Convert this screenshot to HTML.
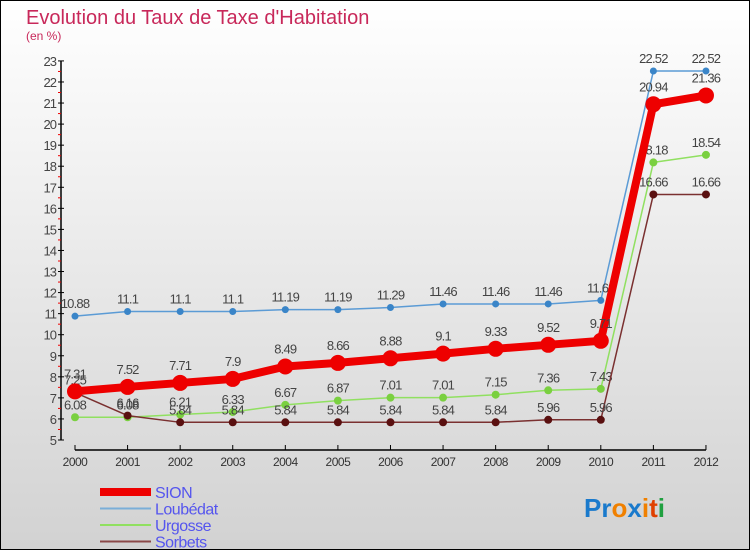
<!DOCTYPE html>
<html><head><meta charset="utf-8"><style>
html,body{margin:0;padding:0}
body{width:750px;height:550px;overflow:hidden;font-family:"Liberation Sans",sans-serif}
</style></head><body>
<svg width="750" height="550" xmlns="http://www.w3.org/2000/svg">
<defs><linearGradient id="bg" x1="0" y1="0" x2="0" y2="1"><stop offset="0" stop-color="#ffffff"/><stop offset="1" stop-color="#d2d2d2"/></linearGradient></defs>
<rect x="0.5" y="0.5" width="749" height="549" fill="url(#bg)" stroke="#000"/>
<text x="26" y="24" font-size="20" fill="#c8285a">Evolution du Taux de Taxe d'Habitation</text>
<text x="26" y="40" font-size="12" fill="#c8285a">(en %)</text>
<g id="axes"></g>
<g id="series"></g>
<g id="legend"></g>
<text x="584" y="517" font-size="26" font-weight="bold"><tspan fill="#1a7acc">Pr</tspan><tspan fill="#f08000">o</tspan><tspan fill="#1a7acc">x</tspan><tspan fill="#f08000">i</tspan><tspan fill="#e04000">t</tspan><tspan fill="#20a040">i</tspan></text>
</svg>
<script>
const years=["2000","2001","2002","2003","2004","2005","2006","2007","2008","2009","2010","2011","2012"];
const yTicks=[5,6,7,8,9,10,11,12,13,14,15,16,17,18,19,20,21,22,23];
const sion=[7.31,7.52,7.71,7.9,8.49,8.66,8.88,9.1,9.33,9.52,9.71,20.94,21.36];
const loubedat=[10.88,11.1,11.1,11.1,11.19,11.19,11.29,11.46,11.46,11.46,11.63,22.52,22.52];
const urgosse=[6.08,6.08,6.21,6.33,6.67,6.87,7.01,7.01,7.15,7.36,7.43,18.18,18.54];
const sorbets=[7.25,6.16,5.84,5.84,5.84,5.84,5.84,5.84,5.84,5.96,5.96,16.66,16.66];
const NS="http://www.w3.org/2000/svg";
const X=i=>75+i*52.58, Y=v=>440-(v-5)*21.06;
function mk(tag,attrs,parent,text){const e=document.createElementNS(NS,tag);for(const k in attrs)e.setAttribute(k,attrs[k]);if(text!==undefined)e.textContent=text;parent.appendChild(e);return e;}
const ax=document.getElementById('axes');
let l=mk('line',{x1:61,y1:Y(23),x2:61,y2:Y(5),stroke:'#000','stroke-width':1.5},ax);


yTicks.forEach(v=>{
  mk('line',{x1:58,y1:Y(v),x2:64,y2:Y(v),stroke:'#000'},ax);
  if(v<23)mk('line',{x1:58,y1:Y(v+0.5),x2:61,y2:Y(v+0.5),stroke:'#e00'},ax);
  const t=mk('text',{x:56,y:Y(v)+5,'font-size':13,fill:'#444','text-anchor':'end','letter-spacing':'-1'},ax,String(v));
  
  
});
l=mk('line',{x1:X(0),y1:450,x2:X(12),y2:450,stroke:'#000','stroke-width':1.5},ax);


years.forEach((y,i)=>{
  mk('line',{x1:X(i),y1:445,x2:X(i),y2:450,stroke:'#000'},ax);
  const t=mk('text',{x:X(i),y:466,'font-size':12,fill:'#333','text-anchor':'middle','letter-spacing':'-0.5'},ax,y);
  
  
});
const sg=document.getElementById('series');
const defs=[
 {name:'loubedat',data:loubedat,c:'#5b9bd5',w:1.5,r:3.5,fc:'#3a85c8'},
 {name:'urgosse',data:urgosse,c:'#90e060',w:1.5,r:4,fc:'#7ad040'},
 {name:'sorbets',data:sorbets,c:'#7a3030',w:1.5,r:4,fc:'#5a1010'},
 {name:'sion',data:sion,c:'#ee0000',w:8,r:8,fc:'#ee0000'}];
defs.forEach(s=>{
  const g=mk('g',{},sg);
  
  
  const p=mk('polyline',{points:s.data.map((v,i)=>X(i)+','+Y(v)).join(' '),fill:'none',stroke:s.c,'stroke-width':s.w,'stroke-linejoin':'round'},g);
  
  
  s.data.forEach((v,i)=>{
    const c=mk('circle',{cx:X(i),cy:Y(v),r:s.r,fill:s.fc},g);
    
    
    const t=mk('text',{x:X(i),y:Y(v)-(s.name==='sion'?13:8),'font-size':13,fill:'#444','text-anchor':'middle','letter-spacing':'-0.8'},g,String(v));
    
    
  });
});
const lg=document.getElementById('legend');
const items=[['SION','#ee0000',8],['Loubédat','#7aaed8',2],['Urgosse','#90e060',2],['Sorbets','#8a4848',2]];
items.forEach((it,i)=>{
  const y=492+i*16.5;
  const g=mk('g',{},lg);
  
  
  mk('line',{x1:100,y1:y,x2:151,y2:y,stroke:it[1],'stroke-width':it[2]},g);
  mk('text',{x:155,y:y+6,'font-size':16,fill:'#5555ee','letter-spacing':'-0.5'},g,it[0]);
});
</script>
</body></html>
